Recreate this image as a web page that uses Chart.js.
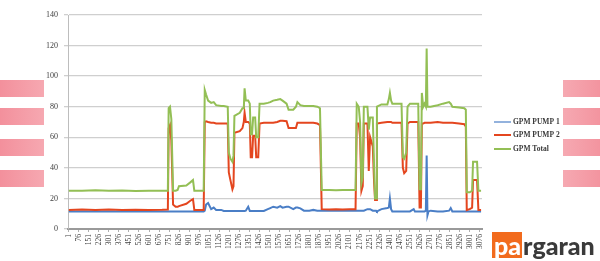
<!DOCTYPE html>
<html lang="en">
<head>
  <meta charset="UTF-8">
  <title>GPM Pumps</title>
  <style>
    body {
      margin: 0;
      padding: 0;
      background: #ffffff;
      overflow: hidden;
    }
    .wrap {
      position: relative;
      width: 600px;
      height: 261px;
    }
    .band {
      position: absolute;
      height: 17px;
    }
    .band.left {
      left: 0;
      width: 44px;
      background: linear-gradient(90deg, #f3909c, #f6a8b1);
    }
    .band.right {
      left: 563px;
      width: 37px;
      background: linear-gradient(90deg, #f6a9b2, #f3949f);
    }
    .logo {
      position: absolute;
      left: 492px;
      top: 232px;
      height: 26px;
      font-family: Lato, 'Open Sans', sans-serif;
      font-weight: 900;
      font-size: 25px;
      line-height: 26px;
      color: #3a3a3a;
      white-space: nowrap;
    }
    .logo span {
      display: inline-block;
      background: #f26b1d;
      color: #ffffff;
      padding: 0 1px 0 2px;
      margin-right: 1px;
    }
    #chartBox {
      position: absolute;
      left: 0;
      top: 0;
      width: 600px;
      height: 261px;
    }
  </style>
  <script src="https://cdn.jsdelivr.net/npm/chart.js"></script>
</head>
<body>
  <div class="wrap">
    <div id="chartBox"><canvas id="gpmChart"></canvas></div>
    <!-- decorative bands on both sides -->
    <div class="band left" style="top:80px"></div>
    <div class="band left" style="top:108px"></div>
    <div class="band left" style="top:139px"></div>
    <div class="band left" style="top:170px"></div>
    <div class="band right" style="top:80px"></div>
    <div class="band right" style="top:108px"></div>
    <div class="band right" style="top:139px"></div>
    <div class="band right" style="top:170px"></div>
    <div class="logo"><span>pa</span>rgaran</div>
  </div>

  <script>
    // sample positions (row number)
    const sampleX = [
      1, 100, 200, 300, 400, 500, 600, 700, 742, 748,
      758, 768, 781, 800, 815, 825, 880, 910, 930, 940,
      1010, 1018, 1028, 1043, 1066, 1085, 1103, 1141, 1160, 1190,
      1198, 1210, 1225, 1233, 1240, 1280, 1300, 1310, 1316, 1325,
      1343, 1355, 1362, 1372, 1380, 1395, 1403, 1418, 1428, 1460,
      1490, 1508, 1530, 1560, 1583, 1600, 1630, 1645, 1680, 1700,
      1711, 1733, 1760, 1800, 1830, 1860, 1880, 1893, 1950, 2000,
      2050, 2100, 2146, 2155, 2170, 2180, 2190, 2200, 2208, 2235,
      2245, 2255, 2275, 2285, 2292, 2300, 2306, 2340, 2384, 2395,
      2403, 2412, 2421, 2490, 2500, 2510, 2525, 2535, 2553, 2581,
      2590, 2615, 2625, 2635, 2642, 2652, 2662, 2672, 2678, 2684,
      2692, 2708, 2760, 2800, 2846, 2858, 2870, 2920, 2960, 2971,
      2978, 3000, 3018, 3025, 3055, 3065, 3085
    ];

    const pump1 = [
      11.5, 11.5, 11.5, 11.5, 11.5, 11.5, 11.5, 11.5, 11.5, 11.5,
      11.5, 11.5, 11.5, 11.5, 11.5, 11.5, 11.5, 11.5, 11.5, 11.5,
      11.5, 12, 16, 17, 13, 14, 12.5, 12.5, 11.8, 11.8,
      11.8, 11.8, 11.8, 11.8, 11.8, 11.8, 11.8, 11.8, 11.8, 12,
      14.6, 11.8, 11.8, 11.8, 11.8, 11.8, 11.8, 11.8, 11.8, 11.8,
      13, 13.7, 14.6, 14, 15, 14, 14.6, 14.6, 13, 14,
      14, 13.5, 12, 12, 12.5, 12, 12, 12, 12, 12,
      12, 12, 12, 12, 12, 12, 12, 12, 12, 13,
      13, 13, 12, 12, 12, 12, 11.5, 13, 13.7, 14,
      20, 13, 11.5, 11.5, 11.5, 11.5, 11.5, 11.5, 11.5, 13,
      11.5, 11.5, 11.5, 11.5, 11.5, 11.5, 11.5, 12, 48, 9,
      11.5, 12, 11.5, 11.5, 12, 13.7, 11.5, 11.5, 11.5, 11.5,
      11.5, 11.5, 11.5, 11.5, 11.5, 11.5, 11.5
    ];

    const pump2 = [
      12.5, 12.8, 12.5, 12.7, 12.5, 12.6, 12.4, 12.6, 12.8, 66,
      68, 58, 16, 14.5, 14.5, 15, 16.5, 18.5, 19.5, 12.5,
      12.5, 70, 70.5, 70, 69.5, 69.5, 69, 69, 69, 69,
      37, 32, 26, 28, 63, 64, 66, 70, 76, 70,
      70, 69, 47, 47, 61, 61, 47, 47, 69, 69.5,
      69.5, 69.5, 69.5, 70, 70.8, 70.8, 70.5, 66, 66, 66,
      69.5, 69.5, 69.5, 69.5, 69.5, 69, 68, 13, 12.8, 13,
      12.8, 13, 13, 69, 69, 60, 25, 28, 69, 69,
      38, 60, 54, 30, 19, 19, 69, 69.5, 70, 70,
      70, 70, 69.5, 69.5, 40, 36.5, 38, 69, 70, 70,
      70, 70, 14, 14, 69, 69, 69.5, 69.5, 69.5, 69.5,
      69.5, 69.5, 70, 69.5, 69.5, 69.5, 69.5, 69, 68.5, 67,
      12.4, 13, 14, 32, 32, 12.5, 12.5
    ];

    const total = [
      25, 25, 25.3, 25, 25.2, 24.8, 25, 25.1, 25, 79,
      80, 72, 25, 25, 25.5, 28, 28.5, 30.5, 32, 25,
      25, 91, 88, 84, 82.5, 83, 81, 80.5, 80.5, 80,
      50, 46, 44, 48, 74, 76, 79, 79, 92, 84,
      84, 82, 62, 62, 73, 73, 60, 60, 82, 82,
      82.5, 83, 84, 84.5, 85, 84, 82, 78, 78, 80,
      83, 81, 80.5, 80.5, 80.5, 80, 79, 25.5, 25.5, 25.3,
      25.5, 25.5, 25.5, 82, 80, 70, 30, 34, 80, 80,
      65, 73, 73, 40, 20, 20, 80, 81.5, 81.5, 85,
      89, 84, 82, 82, 47, 46, 50, 80, 82, 82,
      82, 82, 26, 26, 89, 80, 82, 80, 118, 80,
      80, 80, 81, 82, 83, 82, 80, 79.5, 79, 78,
      24, 24, 25, 44, 44, 25, 25
    ];

    const seriesNames = ['GPM PUMP 1', 'GPM PUMP 2', 'GPM Total'];
    const seriesColors = ['#4a7ec6', '#e4461f', '#93bf55'];
    const xTickLabels = [
      1, 76, 151, 226, 301, 376, 451, 526, 601, 676, 751, 826, 901, 976,
      1051, 1126, 1201, 1276, 1351, 1426, 1501, 1576, 1651, 1726, 1801, 1876,
      1951, 2026, 2101, 2176, 2251, 2326, 2401, 2476, 2551, 2626, 2701, 2776,
      2851, 2926, 3001, 3076
    ];
    const yTickMax = 140;
    const yTickStep = 20;

    function toPoints(values) {
      return values.map((v, i) => ({ x: sampleX[i], y: v }));
    }

    const tickFont = { family: "'Liberation Serif', serif", size: 8 };

    // legend drawn in the right margin, like the spreadsheet one
    const sideLegend = {
      id: 'sideLegend',
      afterDraw(chart) {
        const ctx = chart.ctx;
        const rows = [122, 135, 149];
        ctx.save();
        ctx.font = "bold 7.5px 'Liberation Serif', serif";
        ctx.textBaseline = 'middle';
        chart.data.datasets.forEach((ds, i) => {
          const y = rows[i];
          ctx.strokeStyle = ds.borderColor;
          ctx.lineWidth = i === 0 ? 1.2 : 2;
          ctx.beginPath();
          ctx.moveTo(494, y);
          ctx.lineTo(511, y);
          ctx.stroke();
          ctx.fillStyle = '#3a3a3a';
          ctx.fillText(ds.label, 513, y);
        });
        ctx.restore();
      }
    };

    new Chart(document.getElementById('gpmChart'), {
      type: 'line',
      data: {
        datasets: [
          { label: seriesNames[0], data: toPoints(pump1), borderColor: seriesColors[0], order: 2 },
          { label: seriesNames[1], data: toPoints(pump2), borderColor: seriesColors[1], order: 1 },
          { label: seriesNames[2], data: toPoints(total), borderColor: seriesColors[2], order: 0 }
        ]
      },
      options: {
        responsive: true,
        maintainAspectRatio: false,
        animation: false,
        elements: {
          point: { radius: 0 },
          line: { borderWidth: 2, tension: 0 }
        },
        layout: { padding: { left: 0, top: 15, right: 118, bottom: 0 } },
        plugins: {
          legend: { display: false },
          tooltip: { enabled: false }
        },
        scales: {
          x: {
            type: 'linear',
            min: -5,
            max: 3092,
            afterBuildTicks: axis => {
              axis.ticks = xTickLabels.map(v => ({ value: v }));
            },
            afterFit: axis => { axis.height = 32; },
            ticks: {
              autoSkip: false,
              minRotation: 90,
              maxRotation: 90,
              padding: 2,
              color: '#404040',
              font: { family: "'Liberation Serif', serif", size: 7.5 },
              callback: v => String(v)
            },
            grid: { drawOnChartArea: false, drawTicks: true, tickLength: 3, color: '#b0b0b0' },
            border: { display: true, color: '#9a9a9a', width: 2 }
          },
          y: {
            min: 0,
            max: yTickMax,
            afterFit: axis => { axis.width = 68; },
            ticks: {
              stepSize: yTickStep,
              padding: 6,
              color: '#404040',
              font: tickFont
            },
            grid: { color: '#cfcfcf', lineWidth: 1.3, tickLength: 4 },
            border: { display: true, color: '#bdbdbd', width: 1 }
          }
        }
      },
      plugins: [sideLegend]
    });
  </script>
</body>
</html>
